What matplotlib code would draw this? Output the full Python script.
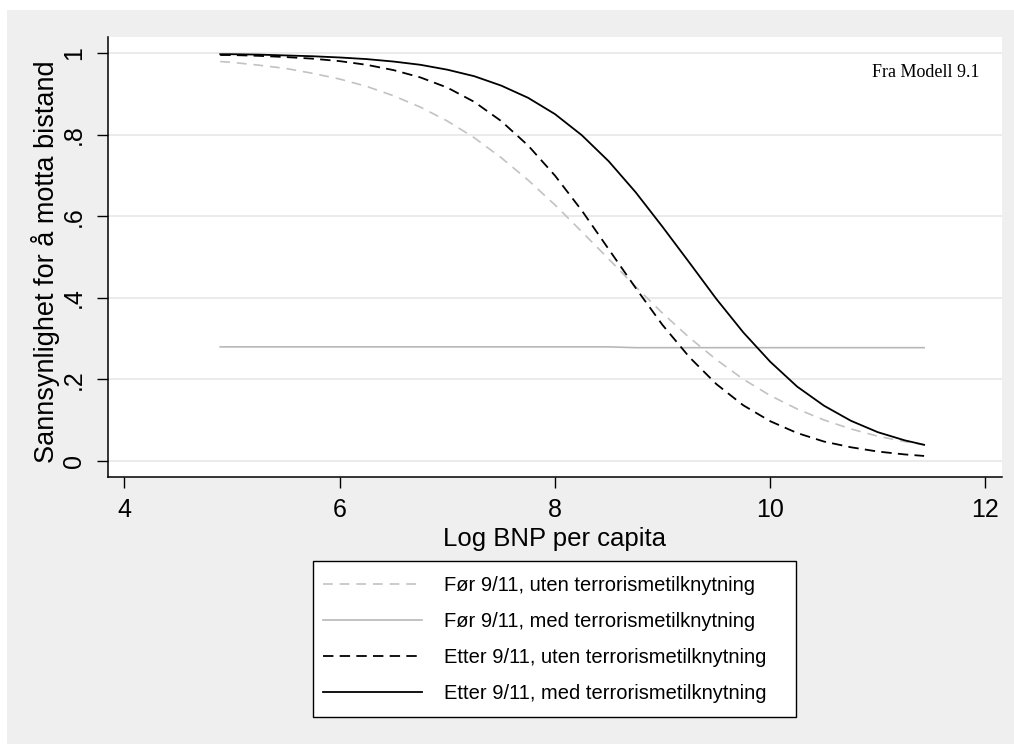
import matplotlib
matplotlib.use('Agg')
import matplotlib.pyplot as plt
from matplotlib.patches import Rectangle

plt.rcParams['font.family'] = ['Liberation Sans', 'DejaVu Sans']
plt.rcParams['lines.scale_dashes'] = False

# values
log_bnp = [4.89, 5.0, 5.25, 5.5, 5.75, 6.0, 6.25, 6.5, 6.75, 7.0, 7.25, 7.5, 7.75, 8.0,
           8.25, 8.5, 8.75, 9.0, 9.25, 9.5, 9.75, 10.0, 10.25, 10.5, 10.75, 11.0, 11.25, 11.43]
for_uten = [0.980, 0.978, 0.971, 0.963, 0.951, 0.937, 0.919, 0.896, 0.868, 0.834, 0.793, 0.744,
            0.689, 0.628, 0.562, 0.495, 0.427, 0.362, 0.302, 0.248, 0.200, 0.160, 0.127, 0.100,
            0.078, 0.060, 0.047, 0.039]
for_med = [0.2795, 0.2795, 0.2795, 0.2795, 0.2795, 0.2795, 0.2795, 0.2795, 0.2795, 0.2795,
           0.2795, 0.2795, 0.2795, 0.2795, 0.2795, 0.2795, 0.2775, 0.2775, 0.2775, 0.2775,
           0.2775, 0.2775, 0.2775, 0.2775, 0.2775, 0.2775, 0.2775, 0.2775]
etter_uten = [0.996, 0.996, 0.994, 0.991, 0.987, 0.981, 0.972, 0.959, 0.941, 0.916, 0.881, 0.834,
              0.774, 0.700, 0.614, 0.519, 0.424, 0.333, 0.254, 0.188, 0.136, 0.097, 0.068, 0.047,
              0.033, 0.0225, 0.0154, 0.0117]
etter_med = [0.998, 0.998, 0.997, 0.995, 0.993, 0.990, 0.986, 0.980, 0.972, 0.960, 0.944, 0.921,
             0.891, 0.851, 0.799, 0.735, 0.659, 0.574, 0.486, 0.397, 0.315, 0.243, 0.182, 0.135,
             0.098, 0.070, 0.050, 0.039]

labels = ['Før 9/11, uten terrorismetilknytning', 'Før 9/11, med terrorismetilknytning',
          'Etter 9/11, uten terrorismetilknytning', 'Etter 9/11, med terrorismetilknytning']
x_ticks = [4, 6, 8, 10, 12]
y_ticks = [0, 0.2, 0.4, 0.6, 0.8, 1]
y_ticklabels = ['0', '.2', '.4', '.6', '.8', '1']

W, H = 1014, 744
fig = plt.figure(figsize=(W / 100, H / 100), dpi=100, facecolor='white')
fig.patches.append(Rectangle((7 / W, 0), 1 - 7 / W, (H - 10) / H, transform=fig.transFigure,
                             facecolor='#efefef', edgecolor='none', zorder=-10))

ax_left, ax_right = 108, 1001.5
ax = fig.add_axes([ax_left / W, 1 - 477 / H, (ax_right - ax_left) / W, (477 - 36.7) / H])
ax.set_facecolor('white')

ax.plot(log_bnp, for_uten, color='#c2c2c2', lw=1.2, linestyle=(0, (7, 5)), label=labels[0])
ax.plot(log_bnp, for_med, color='#b8b8b8', lw=1.2, label=labels[1])
ax.plot(log_bnp, etter_uten, color='black', lw=1.3, linestyle=(0, (7.5, 4.5)), label=labels[2])
ax.plot(log_bnp, etter_med, color='black', lw=1.3, label=labels[3])

ax.set_xlim(3.847, 12.149)
ax.set_ylim(-0.04, 1.041)
ax.set_xticks(x_ticks)
ax.set_yticks(y_ticks)
ax.set_yticklabels(y_ticklabels)
ax.grid(axis='y', color='#e6e6e6', lw=1.1, zorder=0)
ax.set_axisbelow(True)

for s in ['top', 'right']:
    ax.spines[s].set_visible(False)
for s in ['left', 'bottom']:
    ax.spines[s].set_linewidth(1.1)
    ax.spines[s].set_color('black')

ax.tick_params(axis='both', direction='out', length=8, width=1.0, colors='black', labelsize=18)
ax.tick_params(axis='x', pad=7)
ax.tick_params(axis='y', pad=8)
for t in ax.get_yticklabels():
    t.set_rotation(90)
    t.set_va('center')

ax.set_xlabel('Log BNP per capita', fontsize=18.5, labelpad=4)
ax.set_ylabel('Sannsynlighet for å motta bistand', fontsize=19.5)
ax.yaxis.set_label_coords((60 - ax_left) / (ax_right - ax_left), 0.49)

fig.text(980 / W, 1 - 77 / H, 'Fra Modell 9.1', family='Liberation Serif', fontsize=13,
         ha='right', va='baseline')

# legend box drawn by hand (Stata pads it more on the right)
fig.patches.append(Rectangle((313 / W, 1 - 717 / H), (796 - 313) / W, (717 - 561) / H,
                             transform=fig.transFigure, facecolor='white', edgecolor='black',
                             lw=1.0, zorder=1))
leg = fig.legend(loc='upper left', bbox_to_anchor=(313 / W, 1 - 566 / H), fontsize=14.5,
                 frameon=False, borderaxespad=0, handlelength=4.9, handletextpad=1.1,
                 labelspacing=0.85, borderpad=0.5)
leg.set_zorder(2)

fig.savefig('out.png', dpi=100, facecolor=fig.get_facecolor())
